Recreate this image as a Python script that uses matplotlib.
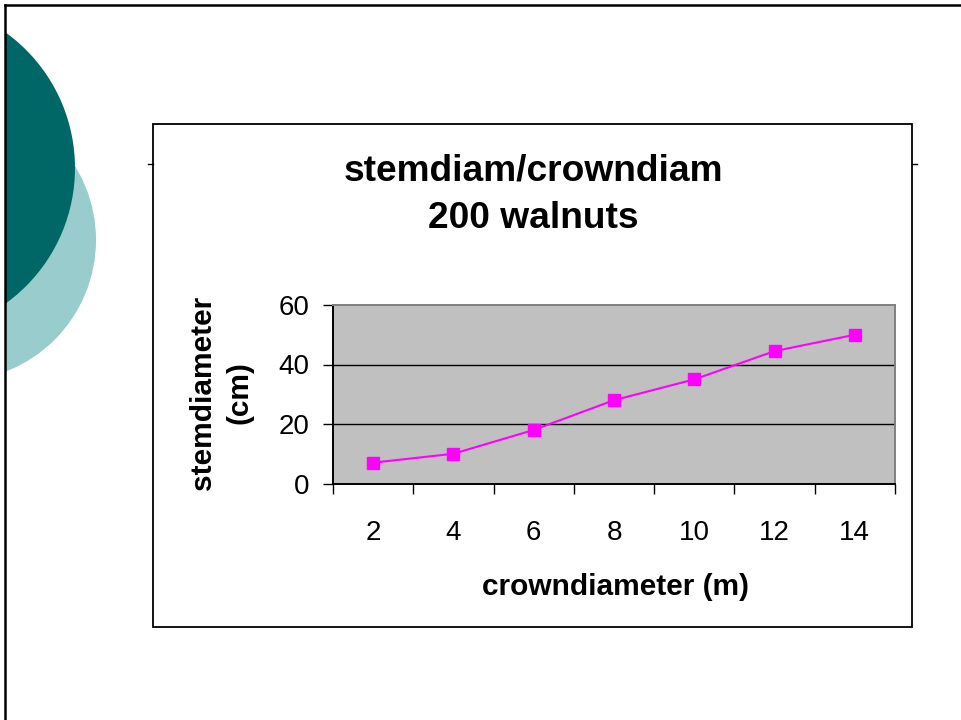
import matplotlib
matplotlib.use("Agg")
import matplotlib.pyplot as plt
from matplotlib.patches import Circle, Rectangle
import numpy as np

# ---- data ----
categories = ["2", "4", "6", "8", "10", "12", "14"]
stem_diameter = [7, 10, 18, 28, 35, 44.5, 50]
y_ticks = [0, 20, 40, 60]
title = "stemdiam/crowndiam\n200 walnuts"
x_label = "crowndiameter (m)"
y_label = "stemdiameter\n(cm)"

plt.rcParams['font.family'] = ['Liberation Sans', 'DejaVu Sans']

W, H = 961, 720
fig = plt.figure(figsize=(W / 100, H / 100), dpi=100)
fig.patch.set_facecolor("white")

# ---- slide background (pixel coordinates) ----
bg = fig.add_axes([0, 0, 1, 1])
bg.set_xlim(0, W)
bg.set_ylim(H, 0)
bg.axis("off")

clip = Rectangle((5, 5), W, H, transform=bg.transData, facecolor="none", edgecolor="none")
bg.add_patch(clip)
light = Circle((-45, 240), 141, facecolor="#99CCCC", edgecolor="none")
dark = Circle((-92, 168), 167, facecolor="#006666", edgecolor="none")
for c in (light, dark):
    bg.add_patch(c)
    c.set_clip_path(clip)

# slide border (top and left)
bg.plot([5, 5], [5, H], color="black", lw=1.8, solid_capstyle="projecting")
bg.plot([5, W], [5, 5], color="black", lw=1.8, solid_capstyle="projecting")

# chart box
bg.add_patch(Rectangle((153, 124), 759, 503, facecolor="white", edgecolor="black", lw=1.3))
bg.plot([148, 153], [163.5, 163.5], color="black", lw=1.0)
bg.plot([912, 917], [163.5, 163.5], color="black", lw=1.0)

# ---- plot area ----
L, R, T, B = 333, 895, 305, 483.5
ax = fig.add_axes([L / W, 1 - B / H, (R - L) / W, (B - T) / H])
ax.set_facecolor("#C0C0C0")

x = np.arange(len(categories))
ax.plot(x, stem_diameter, color="#FF00FF", lw=1.5, marker="s", markersize=8.6,
        markerfacecolor="#FF00FF", markeredgecolor="#FF00FF", zorder=3)

ax.set_xlim(-0.5, len(categories) - 0.5)
ax.set_ylim(y_ticks[0], y_ticks[-1])
ax.set_yticks(y_ticks)
ax.set_yticklabels([str(v) for v in y_ticks], fontsize=20)

ax.set_xticks(np.arange(len(categories) + 1) - 0.5)
ax.set_xticklabels([])
ax.set_xticks(x, minor=True)
ax.set_xticklabels(categories, minor=True, fontsize=20)
ax.tick_params(axis="x", which="major", direction="out", length=7.2, width=1.0, color="black")
ax.tick_params(axis="x", which="minor", length=0, pad=26)
ax.tick_params(axis="y", direction="out", length=7.2, width=1.0, color="black", pad=10)

for yv in y_ticks[1:-1]:
    ax.axhline(yv, color="black", lw=1.0, zorder=1)

ax.spines["left"].set_color("black")
ax.spines["left"].set_linewidth(1.4)
ax.spines["bottom"].set_color("black")
ax.spines["bottom"].set_linewidth(1.4)
ax.spines["top"].set_color("#808080")
ax.spines["top"].set_linewidth(1.4)
ax.spines["right"].set_color("#808080")
ax.spines["right"].set_linewidth(1.4)

# ---- texts ----
fig.text(533 / W, 1 - 228 / H, title, ha="center", va="baseline", fontsize=26.7,
         fontweight="bold", linespacing=1.45, multialignment="center")
fig.text(615 / W, 1 - 595 / H, x_label, ha="center", va="baseline", fontsize=21.5,
         fontweight="bold")
fig.text(221 / W, 1 - 392.5 / H, y_label, ha="center", va="center", rotation=90,
         fontsize=21.5, fontweight="bold", linespacing=1.4, multialignment="center")

fig.savefig("out.png", dpi=100)
